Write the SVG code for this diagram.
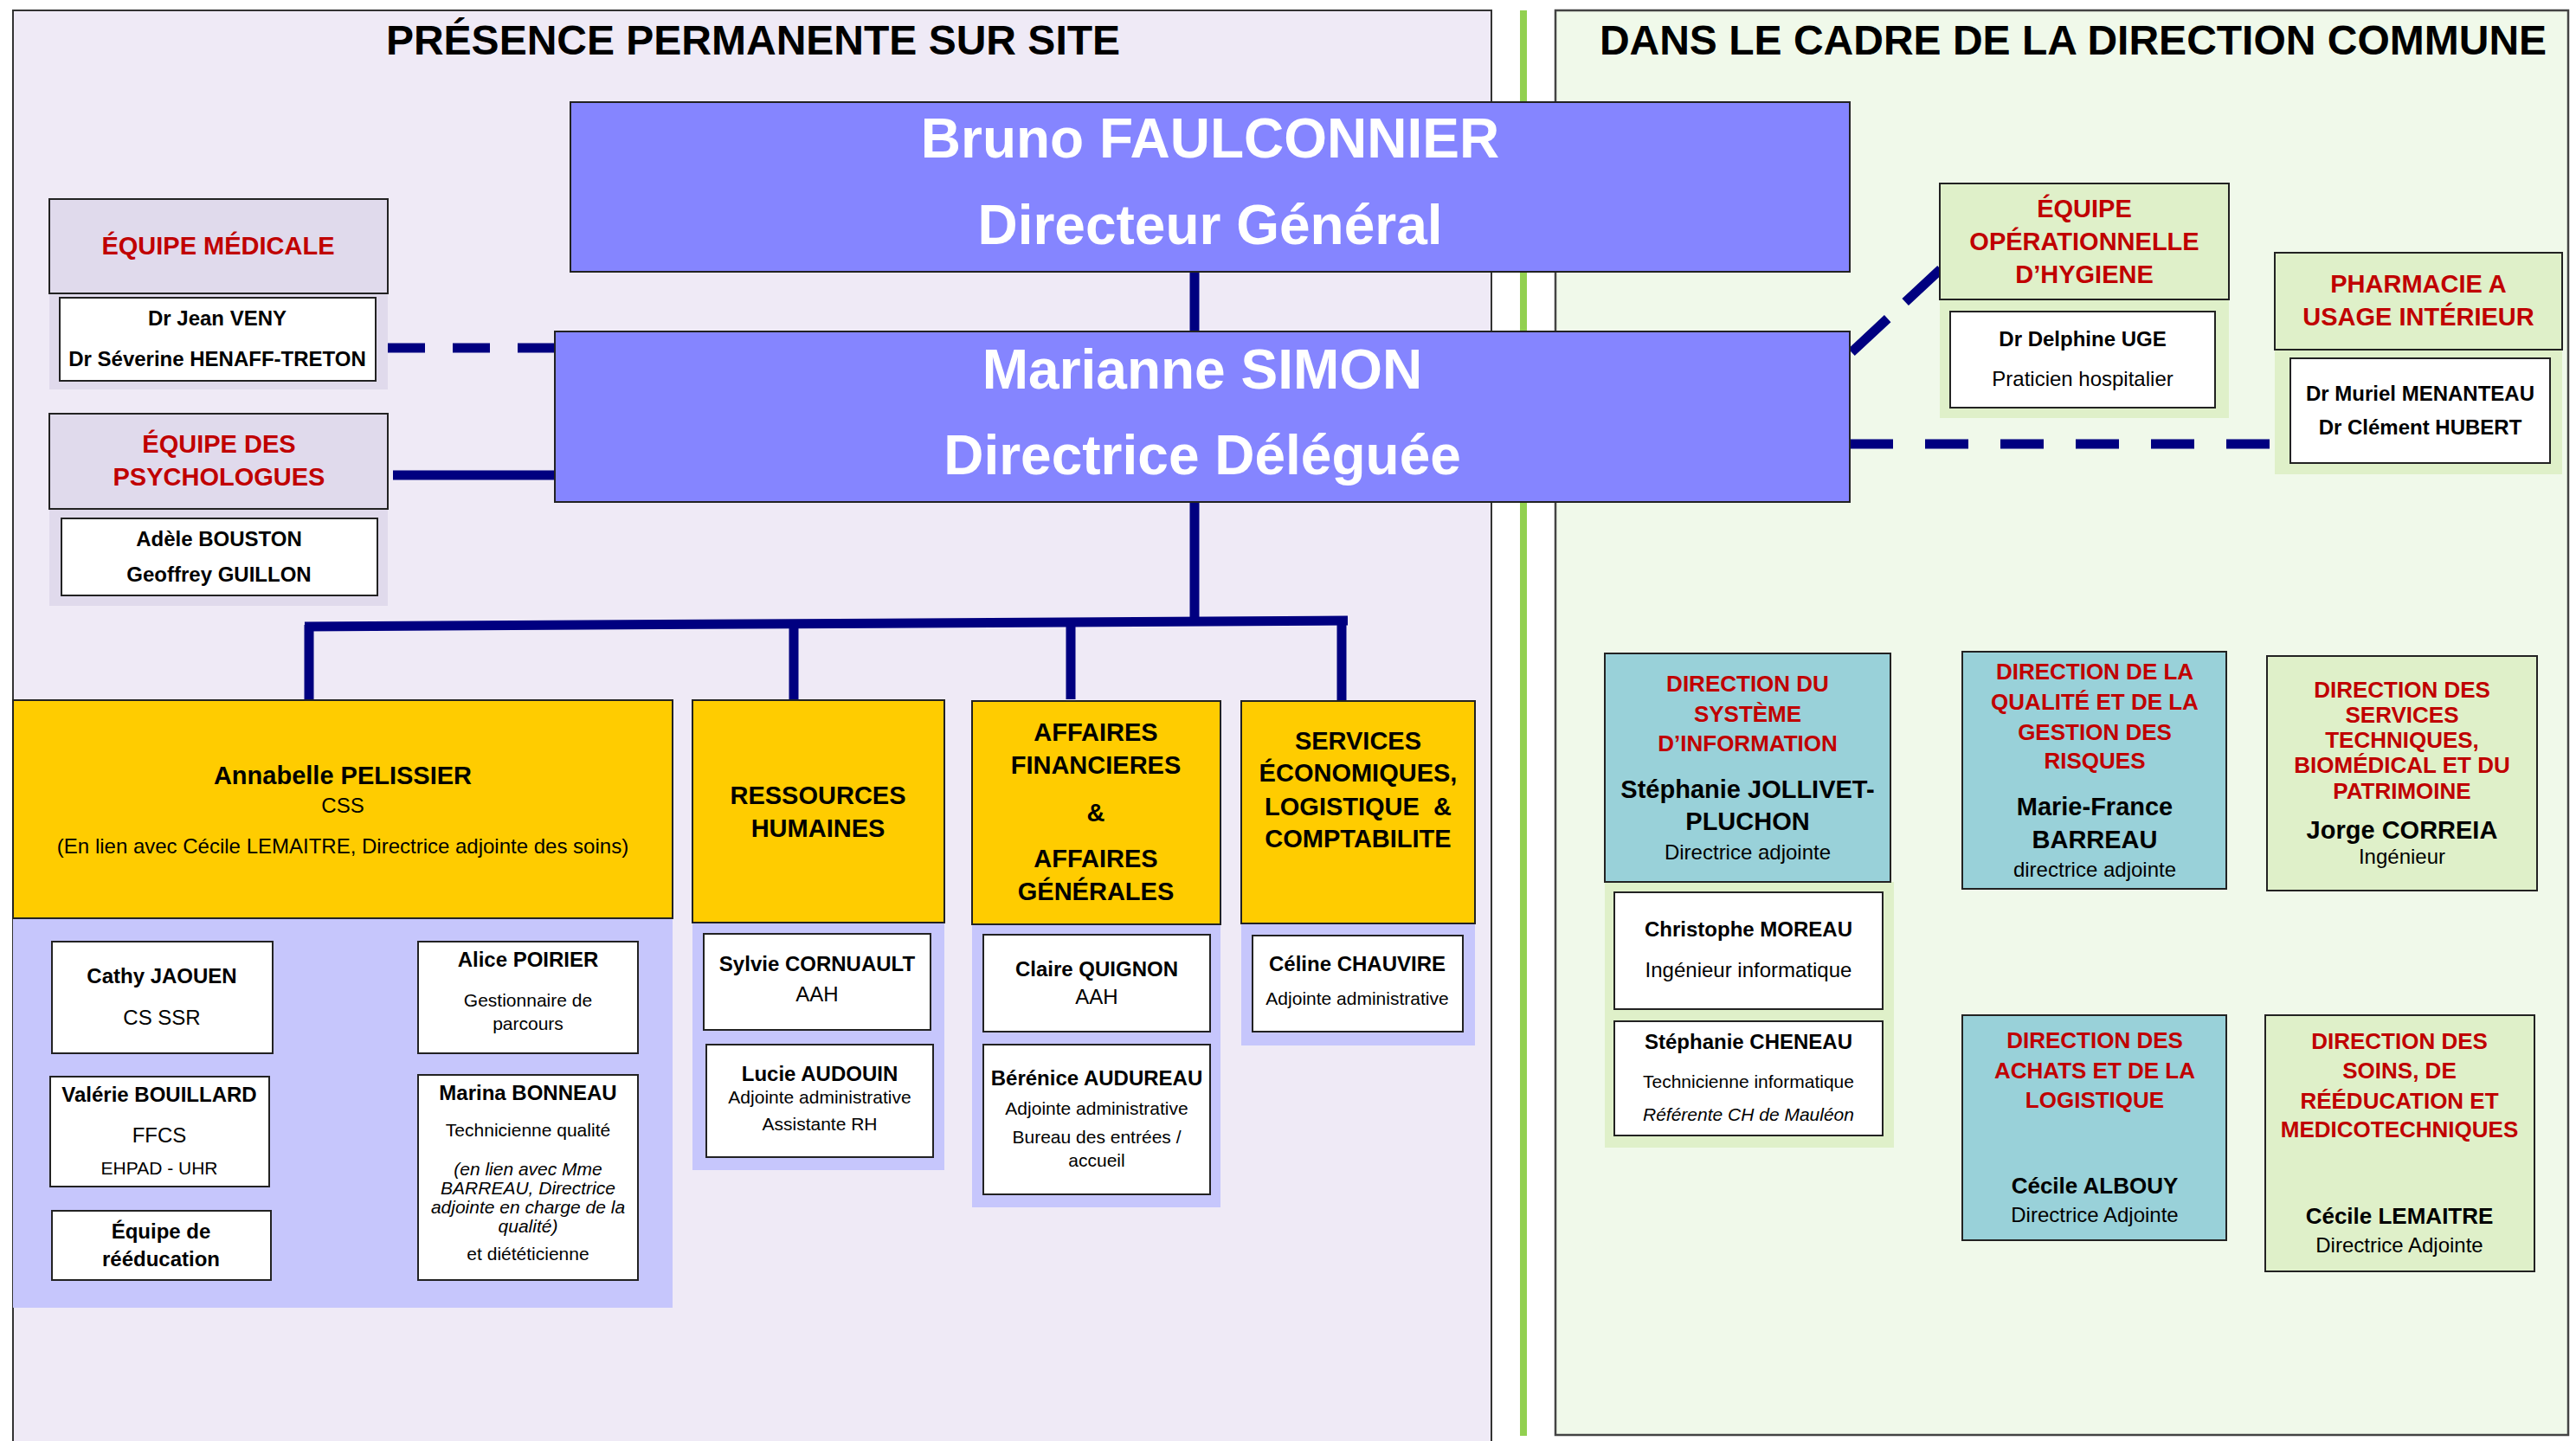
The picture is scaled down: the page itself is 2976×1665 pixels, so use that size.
<svg xmlns="http://www.w3.org/2000/svg" width="2976" height="1665" viewBox="0 0 2976 1665">
<style>
text{font-family:"Liberation Sans",Arial,Helvetica,sans-serif;text-anchor:middle;fill:#000}
.b{font-weight:bold}
.i{font-style:italic}
.red{fill:#C00000}
.w{fill:#fff}
.s21{font-size:21px}.s24{font-size:24px}.s26{font-size:26px}.s29{font-size:29px}.s48{font-size:48px}.s64{font-size:64px}
.box{stroke:#222;stroke-width:2}
.blue{fill:#8585FF}.yel{fill:#FFCC00}.lav{fill:#C6C6FC}.teal{fill:#99D1D9}.lg{fill:#DFF0C9}.grp{fill:#E0DAEC}.wht{fill:#fff}
.con{stroke:#000080;stroke-width:11;fill:none}
</style>
<rect x="0" y="0" width="2976" height="1665" fill="#fff"/>
<g id="panels">
<rect x="15" y="12" width="1708" height="1665" fill="#EFEAF6" stroke="#333" stroke-width="2"/>
<rect x="1797" y="12" width="1170" height="1646" fill="#F0F9EA" stroke="#444" stroke-width="2.5"/>
<line x1="1760" y1="12" x2="1760" y2="1659" stroke="#92D050" stroke-width="8"/>
<text x="870" y="63" class="b s48">PRÉSENCE PERMANENTE SUR SITE</text>
<text x="2395" y="63" class="b s48">DANS LE CADRE DE LA DIRECTION COMMUNE</text>
</g>
<g id="connectors">
<line class="con" x1="1380" y1="314" x2="1380" y2="383"/>
<line class="con" x1="1380" y1="580" x2="1380" y2="721"/>
<line class="con" x1="352" y1="724" x2="1557" y2="717"/>
<line class="con" x1="357" y1="722" x2="357" y2="809"/>
<line class="con" x1="917" y1="721" x2="917" y2="809"/>
<line class="con" x1="1237" y1="719" x2="1237" y2="808"/>
<line class="con" x1="1550" y1="717" x2="1550" y2="809"/>
<line class="con" x1="448" y1="402" x2="641" y2="402" stroke-dasharray="43 32"/>
<line class="con" x1="454" y1="549" x2="641" y2="549"/>
<line class="con" x1="2139" y1="407" x2="2242" y2="311" stroke-dasharray="57 28"/>
<line class="con" x1="2137" y1="513" x2="2628" y2="513" stroke-dasharray="50 37"/>
</g>
<g id="bruno">
<rect class="box blue" x="659" y="118" width="1478" height="196"/>
<text x="1398" y="182" class="b s64 w">Bruno FAULCONNIER</text>
<text x="1398" y="282" class="b s64 w">Directeur Général</text>
</g>
<g id="marianne">
<rect class="box blue" x="641" y="383" width="1496" height="197"/>
<text x="1389" y="449" class="b s64 w">Marianne SIMON</text>
<text x="1389" y="548" class="b s64 w">Directrice Déléguée</text>
</g>
<g id="equipe-medicale">
<rect class="grp" x="57" y="339" width="391" height="111"/>
<rect class="box grp" x="57" y="230" width="391" height="109"/>
<rect class="box wht" x="69" y="344" width="365" height="96"/>
<text x="252" y="294" class="b s29 red">ÉQUIPE MÉDICALE</text>
<text x="251" y="376" class="b s24">Dr Jean VENY</text>
<text x="251" y="423" class="b s24">Dr Séverine HENAFF-TRETON</text>
</g>
<g id="equipe-psychologues">
<rect class="grp" x="57" y="588" width="391" height="112"/>
<rect class="box grp" x="57" y="478" width="391" height="110"/>
<rect class="box wht" x="71" y="599" width="365" height="89"/>
<text x="253" y="523" class="b s29 red">ÉQUIPE DES</text>
<text x="253" y="561" class="b s29 red">PSYCHOLOGUES</text>
<text x="253" y="631" class="b s24">Adèle BOUSTON</text>
<text x="253" y="672" class="b s24">Geoffrey GUILLON</text>
</g>
<g id="annabelle">
<rect class="lav" x="15" y="1061" width="762" height="450"/>
<rect class="box yel" x="15" y="809" width="762" height="252"/>
<text x="396" y="906" class="b s29">Annabelle PELISSIER</text>
<text x="396" y="939" class="s24">CSS</text>
<text x="396" y="986" class="s24">(En lien avec Cécile LEMAITRE, Directrice adjointe des soins)</text>
<rect class="box wht" x="60" y="1088" width="255" height="129"/>
<text x="187" y="1136" class="b s24">Cathy JAOUEN</text>
<text x="187" y="1184" class="s24">CS SSR</text>
<rect class="box wht" x="58" y="1244" width="253" height="127"/>
<text x="184" y="1273" class="b s24">Valérie BOUILLARD</text>
<text x="184" y="1320" class="s24">FFCS</text>
<text x="184" y="1357" class="s21">EHPAD - UHR</text>
<rect class="box wht" x="60" y="1399" width="253" height="80"/>
<text x="186" y="1431" class="b s24">Équipe de</text>
<text x="186" y="1463" class="b s24">rééducation</text>
<rect class="box wht" x="483" y="1088" width="254" height="129"/>
<text x="610" y="1117" class="b s24">Alice POIRIER</text>
<text x="610" y="1163" class="s21">Gestionnaire de</text>
<text x="610" y="1190" class="s21">parcours</text>
<rect class="box wht" x="483" y="1242" width="254" height="237"/>
<text x="610" y="1271" class="b s24">Marina BONNEAU</text>
<text x="610" y="1313" class="s21">Technicienne qualité</text>
<text x="610" y="1358" class="i s21">(en lien avec Mme</text>
<text x="610" y="1380" class="i s21">BARREAU, Directrice</text>
<text x="610" y="1402" class="i s21">adjointe en charge de la</text>
<text x="610" y="1424" class="i s21">qualité)</text>
<text x="610" y="1456" class="s21">et diététicienne</text>
</g>
<g id="ressources-humaines">
<rect class="lav" x="800" y="1066" width="291" height="286"/>
<rect class="box yel" x="800" y="809" width="291" height="257"/>
<text x="945" y="929" class="b s29">RESSOURCES</text>
<text x="945" y="967" class="b s29">HUMAINES</text>
<rect class="box wht" x="813" y="1079" width="262" height="111"/>
<text x="944" y="1122" class="b s24">Sylvie CORNUAULT</text>
<text x="944" y="1157" class="s24">AAH</text>
<rect class="box wht" x="816" y="1207" width="262" height="130"/>
<text x="947" y="1249" class="b s24">Lucie AUDOUIN</text>
<text x="947" y="1275" class="s21">Adjointe administrative</text>
<text x="947" y="1306" class="s21">Assistante RH</text>
</g>
<g id="affaires">
<rect class="lav" x="1123" y="1068" width="287" height="327"/>
<rect class="box yel" x="1123" y="810" width="287" height="258"/>
<text x="1266" y="856" class="b s29">AFFAIRES</text>
<text x="1266" y="894" class="b s29">FINANCIERES</text>
<text x="1266" y="949" class="b s29">&amp;</text>
<text x="1266" y="1002" class="b s29">AFFAIRES</text>
<text x="1266" y="1040" class="b s29">GÉNÉRALES</text>
<rect class="box wht" x="1136" y="1080" width="262" height="112"/>
<text x="1267" y="1128" class="b s24">Claire QUIGNON</text>
<text x="1267" y="1160" class="s24">AAH</text>
<rect class="box wht" x="1136" y="1207" width="262" height="173"/>
<text x="1267" y="1254" class="b s24">Bérénice AUDUREAU</text>
<text x="1267" y="1288" class="s21">Adjointe administrative</text>
<text x="1267" y="1321" class="s21">Bureau des entrées /</text>
<text x="1267" y="1348" class="s21">accueil</text>
</g>
<g id="services-economiques">
<rect class="lav" x="1434" y="1067" width="270" height="141"/>
<rect class="box yel" x="1434" y="810" width="270" height="257"/>
<text x="1569" y="866" class="b s29">SERVICES</text>
<text x="1569" y="903" class="b s29">ÉCONOMIQUES,</text>
<text x="1569" y="942" class="b s29" xml:space="preserve">LOGISTIQUE  &amp;</text>
<text x="1569" y="979" class="b s29">COMPTABILITE</text>
<rect class="box wht" x="1447" y="1081" width="243" height="111"/>
<text x="1568" y="1122" class="b s24">Céline CHAUVIRE</text>
<text x="1568" y="1161" class="s21">Adjointe administrative</text>
</g>
<g id="hygiene">
<rect class="lg" x="2241" y="346" width="334" height="137"/>
<rect class="box lg" x="2241" y="212" width="334" height="134"/>
<rect class="box wht" x="2253" y="360" width="306" height="111"/>
<text x="2408" y="251" class="b s29 red">ÉQUIPE</text>
<text x="2408" y="289" class="b s29 red">OPÉRATIONNELLE</text>
<text x="2408" y="327" class="b s29 red">D’HYGIENE</text>
<text x="2406" y="400" class="b s24">Dr Delphine UGE</text>
<text x="2406" y="446" class="s24">Praticien hospitalier</text>
</g>
<g id="pharmacie">
<rect class="lg" x="2628" y="404" width="332" height="144"/>
<rect class="box lg" x="2628" y="292" width="332" height="112"/>
<rect class="box wht" x="2646" y="414" width="300" height="121"/>
<text x="2794" y="338" class="b s29 red">PHARMACIE A</text>
<text x="2794" y="376" class="b s29 red">USAGE INTÉRIEUR</text>
<text x="2796" y="463" class="b s24">Dr Muriel MENANTEAU</text>
<text x="2796" y="502" class="b s24">Dr Clément HUBERT</text>
</g>
<g id="dsi">
<rect class="lg" x="1854" y="1019" width="334" height="307"/>
<rect class="box teal" x="1854" y="755" width="330" height="264"/>
<text x="2019" y="799" class="b s26 red">DIRECTION DU</text>
<text x="2019" y="834" class="b s26 red">SYSTÈME</text>
<text x="2019" y="868" class="b s26 red">D’INFORMATION</text>
<text x="2019" y="922" class="b s29">Stéphanie JOLLIVET-</text>
<text x="2019" y="959" class="b s29">PLUCHON</text>
<text x="2019" y="993" class="s24">Directrice adjointe</text>
<rect class="box wht" x="1865" y="1031" width="310" height="135"/>
<text x="2020" y="1082" class="b s24">Christophe MOREAU</text>
<text x="2020" y="1129" class="s24">Ingénieur informatique</text>
<rect class="box wht" x="1865" y="1180" width="310" height="132"/>
<text x="2020" y="1212" class="b s24">Stéphanie CHENEAU</text>
<text x="2020" y="1257" class="s21">Technicienne informatique</text>
<text x="2020" y="1295" class="i s21">Référente CH de Mauléon</text>
</g>
<g id="qualite">
<rect class="box teal" x="2267" y="753" width="305" height="274"/>
<text x="2420" y="785" class="b s26 red">DIRECTION DE LA</text>
<text x="2420" y="820" class="b s26 red">QUALITÉ ET DE LA</text>
<text x="2420" y="855" class="b s26 red">GESTION DES</text>
<text x="2420" y="888" class="b s26 red">RISQUES</text>
<text x="2420" y="942" class="b s29">Marie-France</text>
<text x="2420" y="980" class="b s29">BARREAU</text>
<text x="2420" y="1013" class="s24">directrice adjointe</text>
</g>
<g id="services-techniques">
<rect class="box lg" x="2619" y="758" width="312" height="271"/>
<text x="2775" y="806" class="b s26 red">DIRECTION DES</text>
<text x="2775" y="835" class="b s26 red">SERVICES</text>
<text x="2775" y="864" class="b s26 red">TECHNIQUES,</text>
<text x="2775" y="893" class="b s26 red">BIOMÉDICAL ET DU</text>
<text x="2775" y="923" class="b s26 red">PATRIMOINE</text>
<text x="2775" y="969" class="b s29">Jorge CORREIA</text>
<text x="2775" y="998" class="s24">Ingénieur</text>
</g>
<g id="achats">
<rect class="box teal" x="2267" y="1173" width="305" height="260"/>
<text x="2420" y="1211" class="b s26 red">DIRECTION DES</text>
<text x="2420" y="1246" class="b s26 red">ACHATS ET DE LA</text>
<text x="2420" y="1280" class="b s26 red">LOGISTIQUE</text>
<text x="2420" y="1379" class="b s26">Cécile ALBOUY</text>
<text x="2420" y="1412" class="s24">Directrice Adjointe</text>
</g>
<g id="soins">
<rect class="box lg" x="2617" y="1173" width="311" height="296"/>
<text x="2772" y="1212" class="b s26 red">DIRECTION DES</text>
<text x="2772" y="1246" class="b s26 red">SOINS, DE</text>
<text x="2772" y="1281" class="b s26 red">RÉÉDUCATION ET</text>
<text x="2772" y="1314" class="b s26 red">MEDICOTECHNIQUES</text>
<text x="2772" y="1414" class="b s26">Cécile LEMAITRE</text>
<text x="2772" y="1447" class="s24">Directrice Adjointe</text>
</g>
</svg>
